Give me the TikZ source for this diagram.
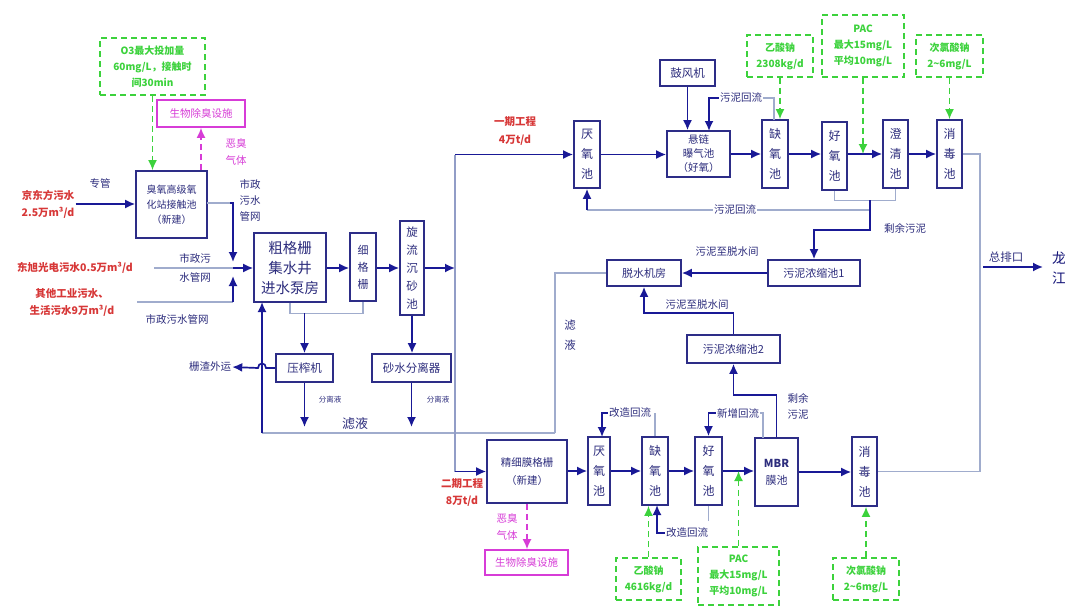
\documentclass[tikz,border=0pt]{standalone}
\usepackage{fontspec}
\setmainfont{Noto Sans CJK SC}
\usetikzlibrary{arrows.meta}
\definecolor{navy}{RGB}{25,25,150}
\definecolor{boxc}{RGB}{45,45,135}
\definecolor{txt}{RGB}{45,45,125}
\definecolor{glc}{RGB}{160,172,205}
\definecolor{redc}{RGB}{215,55,55}
\definecolor{grn}{RGB}{60,210,60}
\definecolor{mag}{RGB}{215,60,215}
\tikzset{
  pbox/.style={draw=boxc, line width=1.7pt, fill=white, text=txt, align=center, inner sep=0pt, font=\fontsize{10.5}{13.5}\selectfont},
  vbox/.style={pbox, font=\fontsize{12}{20}\selectfont},
  gbox/.style={draw=grn, line width=1.6pt, dash pattern=on 6pt off 4pt, text=grn, align=center, inner sep=0pt, font=\bfseries\fontsize{10}{16}\selectfont},
  mbox/.style={draw=mag, line width=1.6pt, fill=white, text=mag, align=center, inner sep=0pt, font=\fontsize{10.5}{13}\selectfont},
  lab/.style={text=txt, align=center, inner sep=1pt, font=\fontsize{10.5}{16}\selectfont},
  slab/.style={text=txt, align=center, inner sep=1pt, font=\fontsize{7.5}{9}\selectfont},
  redl/.style={text=redc, align=center, inner sep=1pt, font=\bfseries\fontsize{10.5}{17}\selectfont},
  magl/.style={text=mag, align=center, inner sep=1pt, font=\fontsize{10.5}{17}\selectfont},
  ln/.style={draw=navy, line width=1.7pt},
  arr/.style={ln, -{Latex[length=10pt,width=9pt]}},
  gl/.style={draw=glc, line width=1.1pt},
  garr/.style={draw=grn, line width=1.6pt, dash pattern=on 6pt off 4pt, -{Latex[length=10pt,width=9pt]}},
  marr/.style={draw=mag, line width=1.6pt, dash pattern=on 6pt off 4pt, -{Latex[length=10pt,width=9pt]}},
}
\begin{document}
\begin{tikzpicture}[x=1pt,y=-1pt]
\useasboundingbox[fill=white] (0,0) rectangle (1065,605);

% ---------------- pretreatment ----------------
\node[gbox, minimum width=105pt, minimum height=57pt] (o3) at (152.5,66.5) {O3最大投加量\\60mg/L，接触时\\间30min};
\node[mbox, minimum width=88pt, minimum height=27pt] (bio1) at (201,113.5) {生物除臭设施};
\node[pbox, minimum width=71pt, minimum height=67pt, font=\fontsize{10}{15}\selectfont] (ozone) at (171.5,204.5) {臭氧高级氧\\化站接触池\\（新建）};
\node[pbox, minimum width=72pt, minimum height=69pt, font=\fontsize{14.5}{20}\selectfont] (coarse) at (290,267.5) {粗格栅\\集水井\\进水泵房};
\node[vbox, minimum width=26pt, minimum height=68pt, font=\fontsize{11}{17}\selectfont] (fine) at (363,267) {细\\格\\栅};
\node[vbox, minimum width=24pt, minimum height=94pt, font=\fontsize{11.5}{18}\selectfont] (grit) at (412,268) {旋\\流\\沉\\砂\\池};
\node[pbox, minimum width=57pt, minimum height=28pt, font=\fontsize{11.5}{14}\selectfont] (press) at (304.5,368) {压榨机};
\node[pbox, minimum width=79pt, minimum height=28pt, font=\fontsize{11.5}{14}\selectfont] (sand) at (411.5,368) {砂水分离器};

\node[magl] at (236,152) {恶臭\\气体};
\node[redl] (jdl) at (48,204) {京东方污水\\2.5万m³/d};
\node[lab] at (100,183) {专管};
\node[lab] at (250,200) {市政\\污水\\管网};
\node[redl] at (75,268) {东旭光电污水0.5万m³/d};
\node[lab, font=\fontsize{10.5}{19}\selectfont] at (195,268) {市政污\\水管网};
\node[redl] at (72,302) {其他工业污水、\\生活污水9万m³/d};
\node[lab] at (177,319) {市政污水管网};
\node[lab] (zl) at (210,367) {栅渣外运};
\node[slab] at (330,400) {分离液};
\node[slab] at (438,400) {分离液};
\node[lab, font=\fontsize{13}{16}\selectfont] at (355,424) {滤液};

\coordinate (oz1) at (207,203);
\coordinate (oz2) at (230,203);
\coordinate (jtop) at (233,262);
\coordinate (jn) at (233,268);
\coordinate (jbot) at (233,276);
\coordinate (jb0) at (233,302);
\coordinate (d0) at (154,268);
\coordinate (q0) at (137,302);
\coordinate (scr) at (304.5,313);
\coordinate (fl) at (262,433);
\coordinate (flc) at (262,302);
\coordinate (hopR) at (266,368);
\coordinate (hopL) at (258,368);
\coordinate (pd) at (304.5,427);
\coordinate (sd) at (411.5,427);
\coordinate (split) at (455,268);
\coordinate (p1) at (455,154.5);
\coordinate (p2) at (455,471.5);
\coordinate (fr) at (555,433);

\draw[garr] (o3.south) -- (o3.south |- ozone.north);
\draw[marr] (bio1.south |- ozone.north) -- (bio1.south);
\draw[arr] (jdl.east) -- (jdl.east -| ozone.west);
\draw[gl] (oz1) -- (oz2);
\draw[arr] (oz2) -| (jtop);
\draw[gl] (d0) -- (jn);
\draw[arr] (jn) -- (jn -| coarse.west);
\draw[gl] (q0) -- (jb0);
\draw[arr] (jb0) -- (jbot);
\draw[arr] (coarse.east |- jn) -- (fine.west |- jn);
\draw[arr] (fine.east |- jn) -- (grit.west |- jn);
\draw[arr] (grit.east |- jn) -- (split);
\draw[gl] (coarse.south) -- ++(0,11) -| (fine.south);
\draw[arr] (scr) -- (press.north);
\draw[arr] (grit.south) -- (grit.south |- sand.north);
\draw[arr] (press.west) -- (hopR) .. controls (266,362) and (258,362) .. (hopL) -- (zl.east);
\draw[arr] (press.south) -- (pd);
\draw[arr] (sand.south) -- (sd);
\draw[gl] (fr) -- (fl);
\draw[arr] (fl) -- (flc);

% ---------------- phase 1 ----------------
\node[redl, font=\bfseries\fontsize{10.5}{18}\selectfont] at (515,131) {一期工程\\4万t/d};
\draw[gl, draw=glc!90!navy] (p1) -- (p2);
\node[vbox, minimum width=26pt, minimum height=67pt] (an1) at (587,154.5) {厌\\氧\\池};
\node[pbox, minimum width=55pt, minimum height=26pt, font=\fontsize{11.5}{14}\selectfont] (blower) at (687.5,73) {鼓风机};
\node[pbox, minimum width=63pt, minimum height=46pt, font=\fontsize{10.5}{14}\selectfont] (aer) at (698.5,154) {悬链\\曝气池\\（好氧）};
\node[vbox, minimum width=26pt, minimum height=68pt] (ax1) at (775,154) {缺\\氧\\池};
\node[vbox, minimum width=25pt, minimum height=68pt] (ox1) at (834.5,156) {好\\氧\\池};
\node[vbox, minimum width=25pt, minimum height=68pt] (clar) at (895.5,154) {澄\\清\\池};
\node[vbox, minimum width=25pt, minimum height=68pt] (dis1) at (949.5,154) {消\\毒\\池};
\node[gbox, minimum width=66pt, minimum height=42pt] (g1) at (780,56) {乙酸钠\\2308kg/d};
\node[gbox, minimum width=82pt, minimum height=62pt] (g2) at (863,46) {PAC\\最大15mg/L\\平均10mg/L};
\node[gbox, minimum width=67pt, minimum height=42pt] (g3) at (949.5,56) {次氯酸钠\\2\textasciitilde6mg/L};

\draw[arr] (p1) -- (an1.west);
\draw[arr] (an1.east) -- (an1.east -| aer.west);
\draw[arr] (aer.east) -- (aer.east -| ax1.west);
\draw[arr] (ax1.east) -- (ax1.east -| ox1.west);
\draw[arr] (ox1.east |- ax1.east) -- (clar.west);
\draw[arr] (clar.east) -- (clar.east -| dis1.west);
\draw[arr] (blower.south) -- (blower.south |- aer.north);
\draw[garr] (g1.south) -- (g1.south |- ax1.north);
\draw[garr] (g2.south) -- (g2.south |- clar.west);
\draw[garr] (g3.south) -- (g3.south |- dis1.north);

\node[lab] (ret1) at (741,98) {污泥回流};
\coordinate (k4) at (774,120);
\coordinate (k4b) at (774,98);
\coordinate (k5) at (709,131);
\draw[gl] (k4) -- (k4b) -- (ret1.east);
\draw[arr] (ret1.west) -| (k5);

\node[lab] (ret2) at (735,210) {污泥回流};
\coordinate (k1) at (587,210);
\coordinate (k2) at (870,200);
\coordinate (k3) at (870,210);
\draw[gl] (ox1.south) -- ++(0,10) -| (clar.south);
\draw[gl] (k3) -- (ret2.east);
\draw[gl] (ret2.west) -- (k1);
\draw[arr] (k1) -- (an1.south);
\node[lab] at (905,228) {剩余污泥};

% ---------------- sludge ----------------
\node[pbox, minimum width=92pt, minimum height=26pt, font=\fontsize{11}{14}\selectfont] (thick1) at (814,273) {污泥浓缩池1};
\node[pbox, minimum width=74pt, minimum height=26pt, font=\fontsize{11}{14}\selectfont] (dew) at (644,273) {脱水机房};
\node[pbox, minimum width=93pt, minimum height=28pt, font=\fontsize{11}{14}\selectfont] (thick2) at (733.5,349) {污泥浓缩池2};
\draw[arr] (k2) -- ++(0,30) -| (thick1.north);
\draw[arr] (thick1.west) -- (dew.east);
\node[lab] at (727,252) {污泥至脱水间};
\draw[arr] (thick2.north) -- ++(0,-21) -| (dew.south);
\node[lab] at (697,305) {污泥至脱水间};
\draw[gl] (dew.west) -| (fr);
\node[lab, font=\fontsize{11.5}{20}\selectfont] at (570,335) {滤\\液};

% ---------------- phase 2 ----------------
\node[redl, font=\bfseries\fontsize{10.5}{17}\selectfont] at (462,493) {二期工程\\8万t/d};
\node[pbox, minimum width=80pt, minimum height=63pt, font=\fontsize{10.5}{18}\selectfont] (mem) at (527,471.5) {精细膜格栅\\（新建）};
\node[mbox, minimum width=83pt, minimum height=25pt] (bio2) at (526.5,562.5) {生物除臭设施};
\node[magl] at (507,527) {恶臭\\气体};
\node[vbox, minimum width=22pt, minimum height=68pt] (an2) at (599,471) {厌\\氧\\池};
\node[vbox, minimum width=26pt, minimum height=68pt] (ax2) at (655,471) {缺\\氧\\池};
\node[vbox, minimum width=27pt, minimum height=68pt] (ox2) at (708.5,471) {好\\氧\\池};
\node[pbox, minimum width=43pt, minimum height=68pt, font=\fontsize{11}{17}\selectfont] (mbr) at (776.5,472) {\textbf{MBR}\\膜池};
\node[vbox, minimum width=25pt, minimum height=69pt] (dis2) at (864.5,471.5) {消\\毒\\池};
\node[gbox, minimum width=65pt, minimum height=42pt] (g4) at (648.5,579) {乙酸钠\\4616kg/d};
\node[gbox, minimum width=81pt, minimum height=58pt] (g5) at (738.5,576) {PAC\\最大15mg/L\\平均10mg/L};
\node[gbox, minimum width=66pt, minimum height=42pt] (g6) at (866,579) {次氯酸钠\\2\textasciitilde6mg/L};

\draw[arr] (p2) -- (mem.west);
\draw[marr] (mem.south) -- (mem.south |- bio2.north);
\draw[arr] (mem.east |- an2.west) -- (an2.west);
\draw[arr] (an2.east) -- (ax2.west);
\draw[arr] (ax2.east) -- (ox2.west);
\draw[arr] (ox2.east) -- (ox2.east -| mbr.west);
\draw[arr] (mbr.east) -- (mbr.east -| dis2.west);
\draw[garr] (g4.north) -- (g4.north |- ax2.south);
\draw[garr] (g5.north) -- (g5.north |- ox2.east);
\draw[garr] (g6.north) -- (g6.north |- dis2.south);

\node[lab] (rt1) at (630,413) {改造回流};
\coordinate (k7) at (602,437);
\draw[gl] (ax2.north) -- (ax2.north |- rt1.east);
\draw[arr] (rt1.west) -| (k7);
\node[lab] (rt2) at (738,413) {新增回流};
\coordinate (k8) at (763,438);
\draw[gl] (k8) |- (rt2.east);
\draw[arr] (rt2.west) -| (ox2.north);
\node[lab] (rt3) at (687,533) {改造回流};
\coordinate (k9) at (657,505);
\draw[gl] (ox2.south) -- ++(0,15);
\draw[arr] (rt3.west) -| (k9);
\draw[arr] (mbr.north) -- ++(0,-42) -| (thick2.south);
\node[lab] at (798,406) {剩余\\污泥};

% ---------------- outlet ----------------
\coordinate (r2) at (980,471.5);
\coordinate (o1) at (983,267);
\coordinate (o2) at (1043,267);
\draw[gl] (dis1.east) -| (r2) -- (dis2.east);
\draw[arr] (o1) -- (o2);
\node[lab, font=\fontsize{11.5}{14}\selectfont] at (1006,257) {总排口};
\node[text=navy!80!black, align=center, font=\fontsize{14}{20}\selectfont] at (1059,268) {龙\\江};
\end{tikzpicture}
\end{document}
